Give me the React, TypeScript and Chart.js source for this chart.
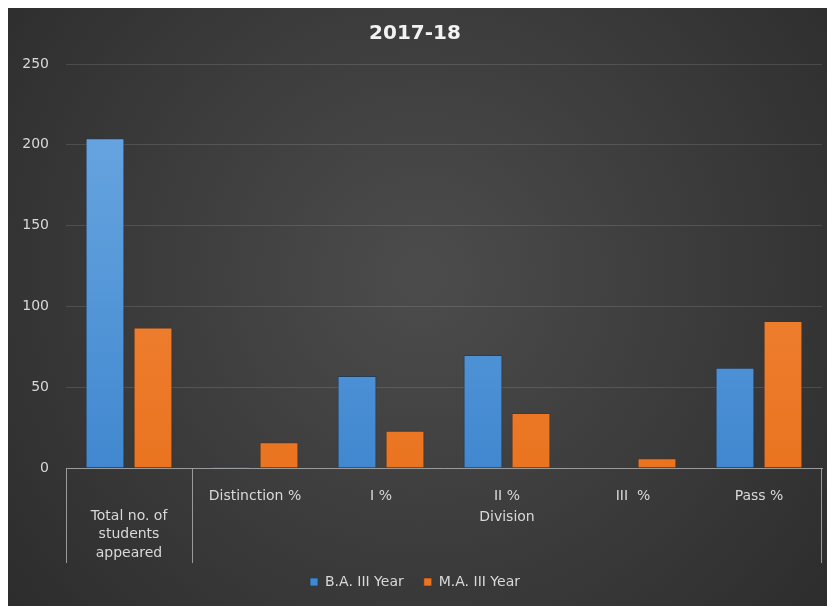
import React, { useEffect, useRef } from "react";
import { Chart, registerables } from "chart.js";

Chart.register(...registerables);

const categories = ["Total no. of students appeared", "Distinction %", "I %", "II %", "III  %", "Pass %"];
const tickLabels = ["", "Distinction %", "I %", "II %", "III  %", "Pass %"];
const firstGroupLabel = ["Total no. of", "students", "appeared"];
const secondGroupLabel = "Division";
const baValues = [204, 1, 57, 70, 0, 62];
const maValues = [87, 16, 23, 34, 6, 91];
const seriesNames = ["B.A. III Year", "M.A. III Year"];
const chartTitle = "2017-18";

const W = 827;
const H = 598;
const FONT = "'DejaVu Sans', sans-serif";
const TEXT = "#d9d9d9";

const bgPlugin = {
  id: "bgPlugin",
  beforeDraw(chart: any) {
    const { ctx, width, height } = chart;
    ctx.save();
    const g = ctx.createRadialGradient(width * 0.5, height * 0.45, 20, width * 0.5, height * 0.45, width * 0.65);
    g.addColorStop(0, "#4b4b4b");
    g.addColorStop(1, "#2c2c2c");
    ctx.fillStyle = g;
    ctx.fillRect(0, 0, width, height);
    ctx.restore();
  },
};

const multiLevelPlugin = {
  id: "multiLevelPlugin",
  afterDraw(chart: any) {
    const { ctx } = chart;
    const x = chart.scales.x;
    const top = x.top;
    const bottom = top + 95;
    const n = categories.length;
    const half = (x.getPixelForValue(1) - x.getPixelForValue(0)) / 2;
    const lines = [x.left, x.getPixelForValue(0) + half, x.right - 1];
    ctx.save();
    ctx.strokeStyle = "#9a9a9a";
    ctx.lineWidth = 1;
    lines.forEach((lx) => {
      const px = Math.round(lx) + 0.5;
      ctx.beginPath();
      ctx.moveTo(px, top);
      ctx.lineTo(px, bottom);
      ctx.stroke();
    });
    ctx.fillStyle = TEXT;
    ctx.font = `14px ${FONT}`;
    ctx.textAlign = "center";
    ctx.textBaseline = "middle";
    const c0 = x.getPixelForValue(0);
    firstGroupLabel.forEach((t, i) => ctx.fillText(t, c0, top + 48 + i * 18.5));
    const cDiv = (x.getPixelForValue(1) + x.getPixelForValue(n - 1)) / 2;
    ctx.fillText(secondGroupLabel, cDiv, top + 49);
    ctx.restore();
  },
};

function barGradient(ctx: any, c1: string, c2: string) {
  const chart = ctx.chart;
  const area = chart.chartArea;
  if (!area) return c2;
  const g = chart.ctx.createLinearGradient(0, area.top, 0, area.bottom);
  g.addColorStop(0, c1);
  g.addColorStop(1, c2);
  return g;
}

export default function App() {
  const ref = useRef<HTMLCanvasElement>(null);
  useEffect(() => {
    if (!ref.current) return;
    const chart = new Chart(ref.current, {
      type: "bar",
      data: {
        labels: tickLabels,
        datasets: [
          {
            label: seriesNames[0],
            data: baValues,
            backgroundColor: (c: any) => barGradient(c, "#6eaae3", "#4188d0"),
            borderColor: "rgba(25,55,95,0.7)",
            borderWidth: 1,
            categoryPercentage: 0.762,
            barPercentage: 0.81,
          },
          {
            label: seriesNames[1],
            data: maValues,
            backgroundColor: (c: any) => barGradient(c, "#f38c45", "#ea7420"),
            borderColor: "rgba(95,40,10,0.6)",
            borderWidth: 1,
            categoryPercentage: 0.762,
            barPercentage: 0.81,
          },
        ],
      },
      options: {
        responsive: false,
        animation: false,
        layout: { padding: { left: 0, right: 13, top: 0, bottom: 7 } },
        plugins: {
          title: {
            display: true,
            text: chartTitle,
            color: "#f2f2f2",
            font: { family: FONT, size: 20, weight: "bold" },
            padding: { top: 14, bottom: 18 },
          },
          legend: {
            position: "bottom",
            labels: {
              color: TEXT,
              font: { family: FONT, size: 14 },
              boxWidth: 8,
              boxHeight: 8,
              padding: 20,
            },
          },
          tooltip: { enabled: false },
        },
        scales: {
          x: {
            grid: { display: false },
            border: { display: true, color: "#9a9a9a", width: 1 },
            ticks: {
              color: TEXT,
              font: { family: FONT, size: 14 },
              padding: 11.6,
              maxRotation: 0,
              autoSkip: false,
            },
            afterFit(scale: any) {
              const lg = scale.chart.legend ? scale.chart.legend.height : 44;
              scale.height = H - 460 - 7 - lg;
            },
          },
          y: {
            min: 0,
            max: 250,
            ticks: {
              stepSize: 50,
              color: TEXT,
              font: { family: FONT, size: 14 },
              padding: 17,
            },
            grid: { color: "rgba(255,255,255,0.12)", drawTicks: false },
            border: { display: false },
            afterFit(scale: any) {
              scale.width = 58;
            },
          },
        },
      },
      plugins: [bgPlugin, multiLevelPlugin],
    });
    return () => chart.destroy();
  }, []);
  return (
    <div style={{ width: W, height: H }}>
      <canvas ref={ref} width={W} height={H} style={{ display: "block", width: W, height: H }} />
    </div>
  );
}
